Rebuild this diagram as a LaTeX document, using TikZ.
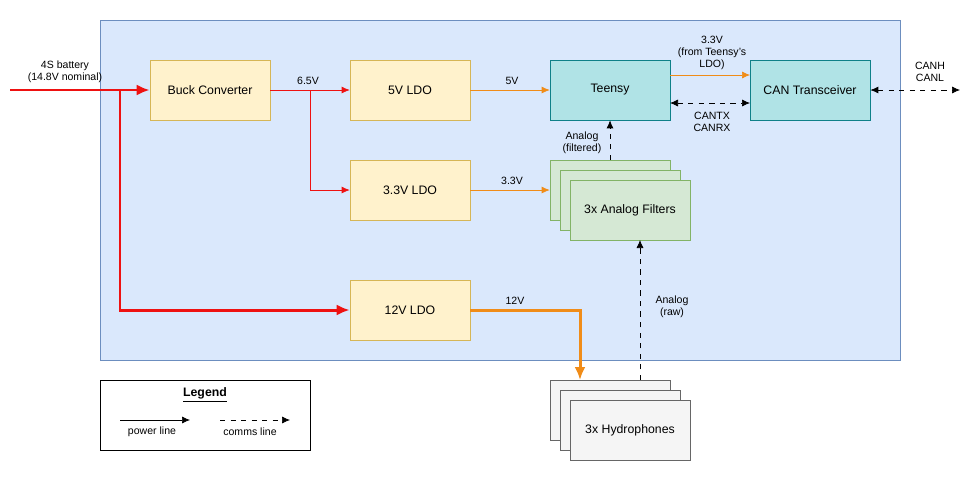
\documentclass[tikz,border=0pt]{standalone}
\usepackage{fontspec}
\setmainfont{Liberation Sans}
\usetikzlibrary{arrows.meta, positioning}
\definecolor{bgblue}{HTML}{DAE8FC}
\definecolor{bgblueb}{HTML}{6C8EBF}
\definecolor{ldofill}{HTML}{FFF2CC}
\definecolor{ldoline}{HTML}{D6B656}
\definecolor{tealfill}{HTML}{B0E3E6}
\definecolor{tealline}{HTML}{0E8088}
\definecolor{grnfill}{HTML}{D5E8D4}
\definecolor{grnline}{HTML}{82B366}
\definecolor{gryfill}{HTML}{F5F5F5}
\definecolor{gryline}{HTML}{666666}
\definecolor{pwrred}{HTML}{EE1111}
\definecolor{pwrorg}{HTML}{F08C18}
\tikzset{
  box/.style={draw, minimum width=2.4cm, minimum height=1.2cm, font=\fontsize{7}{8.5}\selectfont},
  ldo/.style={box, fill=ldofill, draw=ldoline},
  mcu/.style={box, fill=tealfill, draw=tealline},
  filt/.style={box, fill=grnfill, draw=grnline},
  hyd/.style={box, fill=gryfill, draw=gryline},
  lbl/.style={font=\fontsize{6}{7}\selectfont, align=center},
  pwr/.style={-{Latex[length=1.6mm,width=1.4mm]}},
  heavy/.style={line width=1.7pt, -{Latex[length=2.6mm,width=2.2mm]}},
  comm/.style={dashed, -{Latex[length=1.6mm,width=1.4mm]}},
  bicomm/.style={dashed, {Latex[length=1.6mm,width=1.4mm]}-{Latex[length=1.6mm,width=1.4mm]}},
}
\begin{document}
\begin{tikzpicture}[x=0.02cm, y=-0.02cm]
    \useasboundingbox (0,0) rectangle (970,481);
    % Board area
    \draw[fill=bgblue, draw=bgblueb] (100,20) rectangle (900,360);
    % Power stage
    \node[ldo] (buck) at (210,90) {Buck Converter};
    \node[ldo] (ldofive) at (410,90) {5V LDO};
    \node[ldo] (ldothree) at (410,190) {3.3V LDO};
    \node[ldo] (ldotwelve) at (410,310) {12V LDO};
    % Logic
    \node[mcu] (teensy) at (610,90) {Teensy};
    \node[mcu] (can) at (810,90) {CAN Transceiver};
    % Filters (stacked)
    \node[filt] (filtc) at (610,190) {};
    \node[filt] (filtb) at (620,200) {};
    \node[filt] (filta) at (630,210) {3x Analog Filters};
    % Hydrophones (stacked)
    \node[hyd] (hydc) at (610,410) {};
    \node[hyd] (hydb) at (620,420) {};
    \node[hyd] (hyda) at (630,430) {3x Hydrophones};
    % Battery input
    \coordinate (batt) at (10,90);
    \coordinate (split) at (120,90);
    \coordinate (bend) at (120,310);
    \draw[heavy, draw=pwrred] (batt) -- (buck);
    \draw[heavy, draw=pwrred] (split) -- (bend) -- (ldotwelve);
    \node[lbl] at (65,72) {4S battery\\(14.8V nominal)};
    % 6.5V rail
    \coordinate (tap) at (310,90);
    \draw[pwr, draw=pwrred] (buck) -- (ldofive);
    \draw[pwr, draw=pwrred] (tap) |- (ldothree);
    \node[lbl] at (308,81) {6.5V};
    % Regulated rails
    \draw[pwr, draw=pwrorg] (ldofive) -- (teensy);
    \node[lbl] at (512,81) {5V};
    \draw[pwr, draw=pwrorg] (ldothree) -- (filtc);
    \node[lbl] at (512,181) {3.3V};
    \draw[heavy, draw=pwrorg] (ldotwelve) -| (580,380);
    \node[lbl] at (515,301) {12V};
    \draw[pwr, draw=pwrorg] (670,75) -- (750,75);
    \node[lbl] at (712,53) {3.3V\\(from Teensy's\\LDO)};
    % Comms
    \draw[bicomm] (670,103) -- (750,103);
    \node[lbl] at (712,122) {CANTX\\CANRX};
    \coordinate (bus) at (960,90);
    \draw[bicomm] (can) -- (bus);
    \node[lbl] at (930,72) {CANH\\CANL};
    \draw[comm] (610,160) -- (teensy);
    \node[lbl] at (582,143) {Analog\\(filtered)};
    \draw[comm] (640,380) -- (640,240);
    \node[lbl] at (672,307) {Analog\\(raw)};
    % Legend
    \draw[fill=white] (100,380) rectangle (310,450);
    \node[font=\fontsize{7}{8.5}\selectfont\bfseries] at (205,395) {\underline{Legend}};
    \draw[pwr] (120,420) -- (190,420);
    \node[lbl] at (152,432) {power line};
    \draw[comm] (220,420) -- (290,420);
    \node[lbl] at (250,432) {comms line};
\end{tikzpicture}
\end{document}
